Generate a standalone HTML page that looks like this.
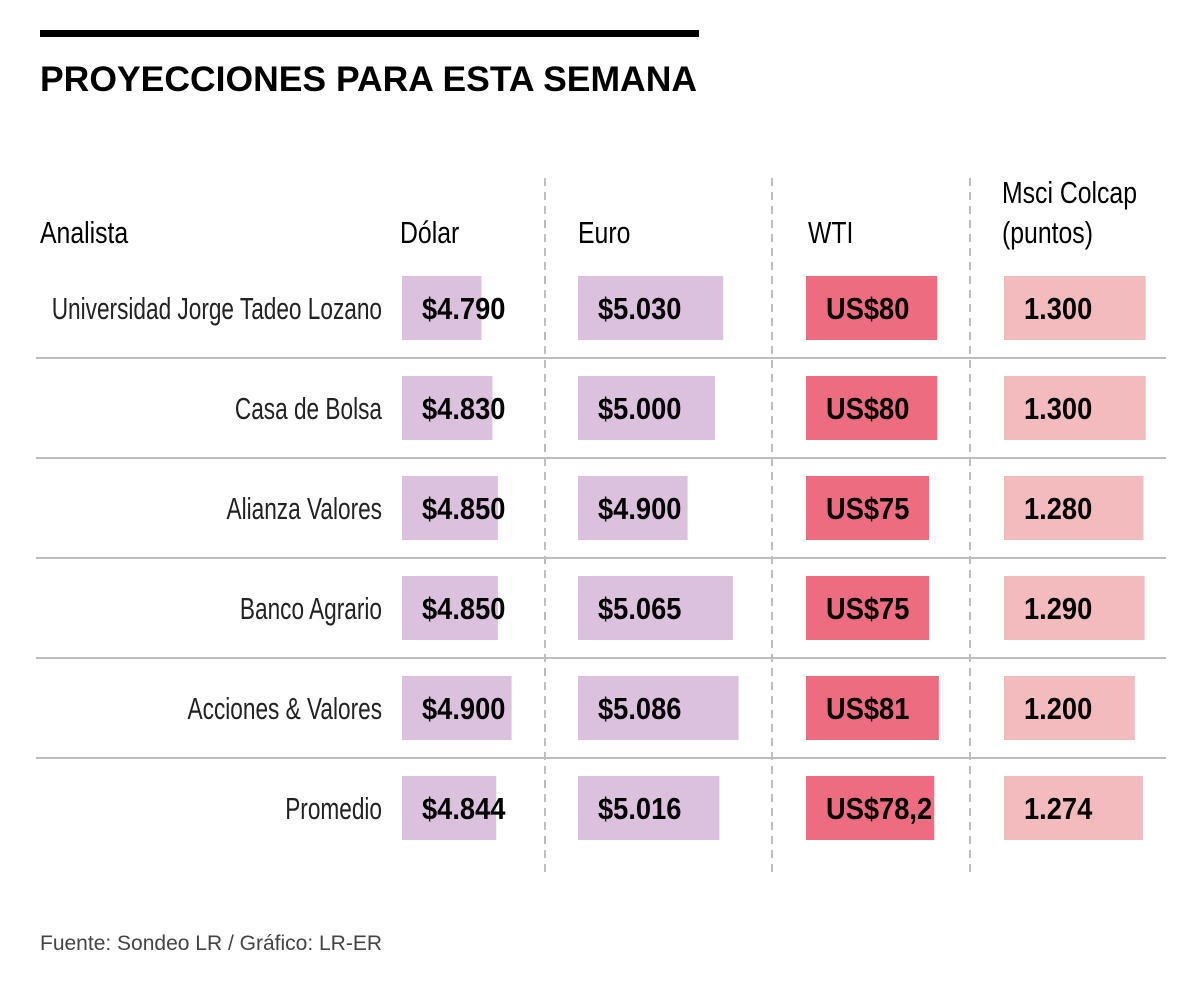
<!DOCTYPE html>
<html><head><meta charset="utf-8"><style>
html,body{margin:0;padding:0;background:#fff;}
svg{display:block;font-family:"Liberation Sans",sans-serif;}
</style></head><body>
<svg id="chart" width="1200" height="988" viewBox="0 0 1200 988">
<rect x="40" y="30" width="659" height="7" fill="#000"/>
<text x="40" y="91" font-family="Liberation Sans" font-weight="bold" font-size="35" textLength="657" lengthAdjust="spacingAndGlyphs">PROYECCIONES PARA ESTA SEMANA</text>
<g id="headers" font-size="31" fill="#000"></g>
<g id="grid"></g>
<g id="bars"></g>
<text x="40" y="950" font-family="Liberation Sans" font-size="21" fill="#444">Fuente: Sondeo LR / Gráfico: LR-ER</text>
</svg>
<script>
const analysts = ["Universidad Jorge Tadeo Lozano","Casa de Bolsa","Alianza Valores","Banco Agrario","Acciones & Valores","Promedio"];
const dolar = [4790,4830,4850,4850,4900,4844];
const euro = [5030,5000,4900,5065,5086,5016];
const wti = [80,80,75,75,81,78.2];
const colcap = [1300,1300,1280,1290,1200,1274];
const dolarLabels = ["$4.790","$4.830","$4.850","$4.850","$4.900","$4.844"];
const euroLabels = ["$5.030","$5.000","$4.900","$5.065","$5.086","$5.016"];
const wtiLabels = ["US$80","US$80","US$75","US$75","US$81","US$78,2"];
const colcapLabels = ["1.300","1.300","1.280","1.290","1.200","1.274"];

const NS="http://www.w3.org/2000/svg";
function mk(tag,attrs,parent,text){const e=document.createElementNS(NS,tag);for(const k in attrs)e.setAttribute(k,attrs[k]);if(text!==undefined)e.textContent=text;parent.appendChild(e);return e;}
function txt(parent,x,y,sx,s,extra){const a=Object.assign({x:0,y:0,transform:'translate('+x+','+y+') scale('+sx+',1)'},extra||{});return mk('text',a,parent,s);}
const H=document.getElementById('headers'),G=document.getElementById('grid'),B=document.getElementById('bars');
const rowY=i=>276+i*100;
const fx=v=>0.274*(v-4500);
const cols=[
 {name:'dolar',x:402,vals:dolar,labels:dolarLabels,w:fx,color:'#dcc1de'},
 {name:'euro',x:578,vals:euro,labels:euroLabels,w:fx,color:'#dcc1de'},
 {name:'wti',x:806,vals:wti,labels:wtiLabels,w:v=>1.64*v,color:'#ee6c80'},
 {name:'colcap',x:1004,vals:colcap,labels:colcapLabels,w:v=>0.109*v,color:'#f4bbbf'}
];
[["Analista",40,243],["Dólar",400,243],["Euro",578,243],["WTI",808,243],["Msci Colcap",1002,203],["(puntos)",1002,243]].forEach(h=>{
 const t=txt(H,h[1],h[2],0.8,h[0]);
 
 
});
[545,772,970].forEach(x=>{
 const l=mk('line',{x1:x,x2:x,y1:178,y2:878,stroke:'#aaa','stroke-width':1.5,'stroke-dasharray':'8,6'},G);
 
 
});
for(let i=1;i<analysts.length;i++){
 const l=mk('line',{x1:36,x2:1166,y1:rowY(i)-18,y2:rowY(i)-18,stroke:'#bdbdbd','stroke-width':2},G);
 
 
}
analysts.forEach((a,i)=>{
 const t=txt(B,382,rowY(i)+43,0.73,a,{'text-anchor':'end','font-size':31,fill:'#222'});
 
 
 cols.forEach(c=>{
  const r=mk('rect',{x:c.x,y:rowY(i),width:c.w(c.vals[i]),height:64,fill:c.color},B);
  
  
  const v=txt(B,c.x+20,rowY(i)+43,0.88,c.labels[i],{'font-size':31,'font-weight':'bold',fill:'#000'});
  
  
 });
});
</script>
</body></html>
